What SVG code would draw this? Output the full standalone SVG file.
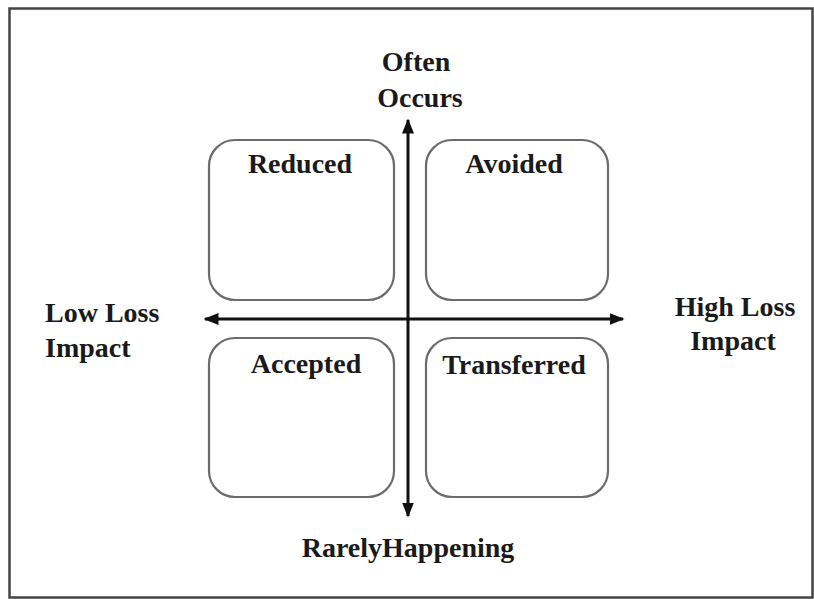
<svg xmlns="http://www.w3.org/2000/svg" width="814" height="599" viewBox="0 0 814 599">
<defs>
<style>
.box{fill:#fff;stroke:#6b6b6b;stroke-width:2.2}
.ax{stroke:#111;stroke-width:3;fill:none}
.t{font-family:"Liberation Serif","Times New Roman",serif;font-weight:bold;font-size:28px;fill:#1a1a1a}
.c{text-anchor:middle}
</style>
<marker id="ah" viewBox="0 0 10 10" refX="9" refY="5" markerWidth="5" markerHeight="5" orient="auto-start-reverse" markerUnits="strokeWidth">
<path d="M0,1 L10,5 L0,9 Z" fill="#111"/>
</marker>
</defs>
<rect x="0" y="0" width="814" height="599" fill="#fff"/>
<rect x="9.5" y="8.5" width="803" height="589" fill="none" stroke="#444" stroke-width="2.5"/>
<g id="connectors">
<line class="ax" x1="408" y1="120" x2="408" y2="516" marker-start="url(#ah)" marker-end="url(#ah)"/>
<line class="ax" x1="205" y1="319" x2="623" y2="319" marker-start="url(#ah)" marker-end="url(#ah)"/>
</g>
<g id="reduced">
<rect class="box" x="209" y="140" width="185" height="160" rx="26"/>
<text class="t c" x="300" y="173">Reduced</text>
</g>
<g id="avoided">
<rect class="box" x="426" y="140" width="182" height="160" rx="26"/>
<text class="t c" x="514" y="173">Avoided</text>
</g>
<g id="accepted">
<rect class="box" x="209" y="338" width="185" height="159" rx="26"/>
<text class="t c" x="306" y="373">Accepted</text>
</g>
<g id="transferred">
<rect class="box" x="426" y="338" width="182" height="159" rx="26"/>
<text class="t c" x="514" y="374">Transferred</text>
</g>
<g id="often-occurs">
<text class="t c" x="416" y="71">Often</text>
<text class="t c" x="420" y="107">Occurs</text>
</g>
<g id="low-loss-impact">
<text class="t" x="45" y="322">Low Loss</text>
<text class="t" x="45" y="357">Impact</text>
</g>
<g id="high-loss-impact">
<text class="t c" x="735" y="316">High Loss</text>
<text class="t c" x="733" y="350">Impact</text>
</g>
<g id="rarely-happening">
<text class="t c" x="408" y="557">RarelyHappening</text>
</g>
</svg>
